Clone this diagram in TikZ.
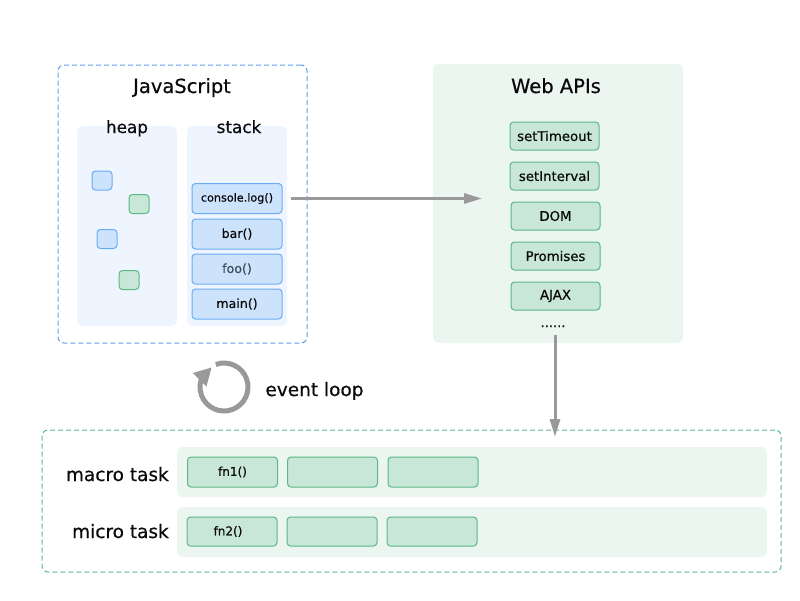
\documentclass[tikz,border=0pt]{standalone}
\usepackage{fontspec}
\setmainfont{DejaVu Sans}[FakeBold=0.5]
\usetikzlibrary{arrows.meta}
\definecolor{jsblue}{HTML}{5B9FF0}
\definecolor{panelblue}{HTML}{EEF5FE}
\definecolor{boxblue}{HTML}{CDE3FC}
\definecolor{edgeblue}{HTML}{6AABF6}
\definecolor{boxgreen}{HTML}{C9E7D8}
\definecolor{edgegreen}{HTML}{5BB784}
\definecolor{panelgreen}{HTML}{ECF6F0}
\definecolor{dashgreen}{HTML}{5CB88A}
\definecolor{arrowgray}{HTML}{999999}
\definecolor{txt}{HTML}{0A0A0A}
\definecolor{footxt}{HTML}{3D4B5C}
\tikzset{
  panel/.style={rectangle, rounded corners=6pt, inner sep=0pt, draw=none},
  dashbox/.style={rectangle, rounded corners=6pt, inner sep=0pt, line width=1pt, dash pattern=on 5pt off 3pt},
  smallbox/.style={rectangle, rounded corners=3.5pt, line width=1pt, inner sep=0pt, text=txt},
  bluebox/.style={smallbox, fill=boxblue, draw=edgeblue, minimum width=90pt, minimum height=30pt, font=\fontsize{12.6}{15}\selectfont},
  heapblue/.style={smallbox, fill=boxblue, draw=edgeblue, minimum width=20pt, minimum height=19pt},
  heapgreen/.style={smallbox, fill=boxgreen, draw=edgegreen, minimum width=20pt, minimum height=19pt},
  apibox/.style={smallbox, fill=boxgreen, draw=edgegreen, minimum width=89pt, minimum height=28pt, font=\fontsize{13.3}{15}\selectfont},
  taskbox/.style={smallbox, fill=boxgreen, draw=edgegreen, minimum width=90pt, minimum height=30pt, font=\fontsize{12}{14}\selectfont},
  title/.style={anchor=base, text=txt, inner sep=0pt, font=\fontsize{19.5}{22}\selectfont},
  sub/.style={anchor=base, text=txt, inner sep=0pt, font=\fontsize{16.8}{20}\selectfont},
  lbl/.style={anchor=base east, text=txt, inner sep=0pt, font=\fontsize{18.5}{22}\selectfont},
  flow/.style={draw=arrowgray, line width=3pt, -{Triangle[length=18pt,width=10pt]}},
}
\begin{document}
\begin{tikzpicture}[x=1pt,y=-1pt]
\useasboundingbox (0,0) rectangle (800,600);
% JavaScript container
\node[dashbox, draw=jsblue, minimum width=249pt, minimum height=278pt] (js) at (182.5,204) {};
\node[title] (jst) at (182,93) {JavaScript};
\node[panel, fill=panelblue, minimum width=100pt, minimum height=200pt] (heap) at (127,226) {};
\node[panel, fill=panelblue, minimum width=100pt, minimum height=200pt] (stack) at (237,226) {};
\node[sub] (heapt) at (127,133) {heap};
\node[sub] (stackt) at (239,133) {stack};
% heap objects
\node[heapblue] (h1) at (102,180.5) {};
\node[heapgreen] (h2) at (139,204) {};
\node[heapblue] (h3) at (107,239) {};
\node[heapgreen] (h4) at (129,280) {};
% stack frames
\node[bluebox, font=\fontsize{11.2}{13}\selectfont] (cl) at (237,198.5) {console.log()};
\node[bluebox] (bar) at (237,234) {bar()};
\node[bluebox, text=footxt] (foo) at (237,269) {foo()};
\node[bluebox] (main) at (237,304) {main()};
% Web APIs
\node[panel, fill=panelgreen, minimum width=250pt, minimum height=279pt] (web) at (558,203.5) {};
\node[title] (webt) at (556,93) {Web APIs};
\node[apibox] (st) at (554.5,136) {setTimeout};
\node[apibox] (si) at (554.5,176) {setInterval};
\node[apibox] (dom) at (555.5,216) {DOM};
\node[apibox] (prom) at (555.5,256) {Promises};
\node[apibox] (ajax) at (555.5,296) {AJAX};
\node[anchor=base, inner sep=0pt, text=txt, font=\fontsize{13}{15}\selectfont] (dots) at (553,327) {......};
% arrow stack -> web apis
\coordinate (apiIn) at (482,198.5);
\draw[flow] ([xshift=8pt]cl.east) -- (apiIn);
% event loop
\coordinate (elc) at (224,387);
\draw[arrowgray, line width=5pt] (elc) ++(250:24) arc[start angle=250, end angle=572, radius=24];
\fill[arrowgray] (193,373) -- (211.5,367.5) -- (206.5,386.5) -- cycle;
\node[anchor=base, inner sep=0pt, text=txt, font=\fontsize{18.5}{22}\selectfont] (el) at (314.5,396) {event loop};
% task queues
\node[dashbox, draw=dashgreen, minimum width=739pt, minimum height=142pt] (queue) at (411.5,501) {};
\node[panel, fill=panelgreen, minimum width=590pt, minimum height=50pt] (macro) at (472,472) {};
\node[panel, fill=panelgreen, minimum width=590pt, minimum height=50pt] (micro) at (472,532) {};
\node[lbl] (macrol) at (169,481) {macro task};
\node[lbl] (microl) at (169,538) {micro task};
\node[taskbox] (m1) at (232.5,472) {fn1()};
\node[taskbox] (m2) at (332.5,472) {};
\node[taskbox] (m3) at (433,472) {};
\node[taskbox, minimum height=29pt] (u1) at (232,531.5) {\hspace*{-8pt}fn2()};
\node[taskbox, minimum height=29pt] (u2) at (332,531.5) {};
\node[taskbox, minimum height=29pt] (u3) at (432,531.5) {};
% arrow web apis -> queues
\coordinate (apiOut) at (555,335);
\coordinate (qIn) at (555,437);
\draw[flow] (apiOut) -- (qIn);
\end{tikzpicture}
\end{document}
